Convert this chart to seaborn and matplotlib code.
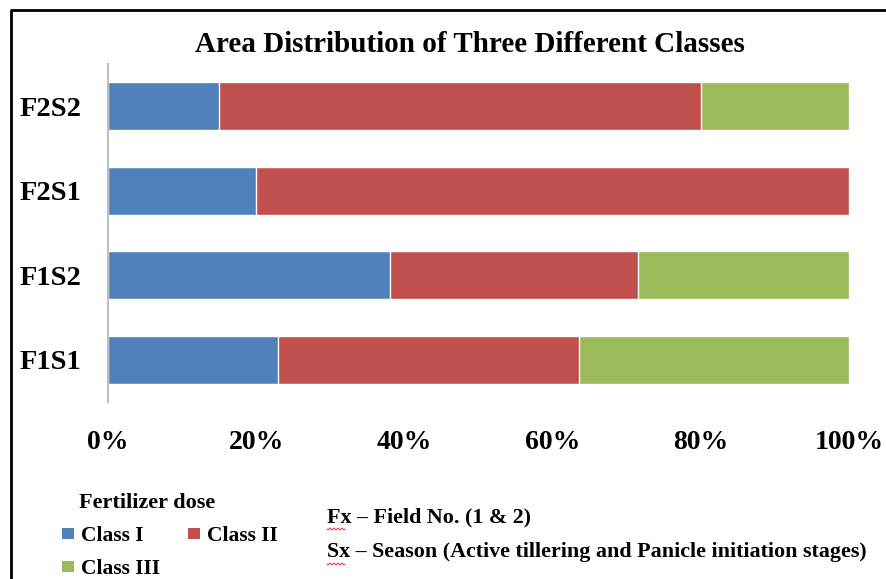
import matplotlib
matplotlib.use("Agg")
import matplotlib.pyplot as plt
from matplotlib.lines import Line2D
from matplotlib.patches import Patch
import seaborn as sns
import pandas as pd
import numpy as np

# Share of area (%) in each class, per field/season combination
groups = ["F2S2", "F2S1", "F1S2", "F1S1"]
class_1 = [15.0, 20.0, 38.0, 23.0]
class_2 = [65.0, 80.0, 33.5, 40.5]
class_3 = [20.0, 0.0, 28.5, 36.5]
class_names = ["Class I", "Class II", "Class III"]
class_colors = ["#4F81BD", "#C0504D", "#9BBB59"]
x_ticks = [0, 20, 40, 60, 80, 100]
x_tick_labels = ["0%", "20%", "40%", "60%", "80%", "100%"]

sns.set_theme(style="white")
plt.rcParams["font.family"] = ["Liberation Serif", "DejaVu Serif"]
plt.rcParams["font.weight"] = "bold"
plt.rcParams["text.color"] = "black"
plt.rcParams["xtick.color"] = "black"
plt.rcParams["ytick.color"] = "black"

df = pd.DataFrame({"group": groups, "c1": class_1, "c2": class_2, "c3": class_3})
df["cum1"] = df["c1"]
df["cum2"] = df["c1"] + df["c2"]
df["cum3"] = df["c1"] + df["c2"] + df["c3"]

fig = plt.figure(figsize=(8.86, 5.79), dpi=100)
ax = fig.add_axes([108 / 886, 1 - 402 / 579, (849 - 108) / 886, (402 - 64) / 579])

# Stacked bars: draw cumulative totals back to front
for col, color in zip(["cum3", "cum2", "cum1"], class_colors[::-1]):
    sns.barplot(data=df, x=col, y="group", order=groups, color=color,
                orient="h", width=0.57, saturation=1, ax=ax)

ax.set_xlim(0, 100)
ax.set_xticks(x_ticks)
ax.set_xticklabels(x_tick_labels, fontsize=20, fontweight="bold", color="black")
ax.set_yticklabels(groups, fontsize=20.5, fontweight="bold", color="black")
ax.set_xlabel("")
ax.set_ylabel("")
ax.tick_params(axis="x", length=0, pad=20)
ax.tick_params(axis="y", length=0, pad=19)
for side in ["top", "right", "bottom"]:
    ax.spines[side].set_visible(False)
ax.spines["left"].set_color("#BFBFBF")
ax.spines["left"].set_linewidth(1.5)

fig.text(470 / 886, 1 - 45 / 579, "Area Distribution of Three Different Classes",
         ha="center", va="center", fontsize=21, fontweight="bold", color="black")

# Legend
handles = [Patch(facecolor=c, edgecolor="none") for c in class_colors]
leg = fig.legend([handles[0], handles[2], handles[1]],
                 [class_names[0], class_names[2], class_names[1]],
                 ncol=2, frameon=False, loc="upper left",
                 bbox_to_anchor=(62 / 886, 1 - 526 / 579),
                 prop={"size": 15.5, "weight": "bold"},
                 handlelength=0.55, handleheight=0.45, handletextpad=0.33,
                 columnspacing=1.3, labelspacing=0.62, borderpad=0,
                 borderaxespad=0)
for t in leg.get_texts():
    t.set_color("black")
fig.text(79 / 886, 1 - 503 / 579, "Fertilizer dose", ha="left", va="center",
         fontsize=16, fontweight="bold", color="black")

# Key to the group codes
fig.text(327 / 886, 1 - 517 / 579, "Fx \u2013 Field No. (1 & 2)", ha="left",
         va="center", fontsize=15.8, fontweight="bold", color="black")
fig.text(327 / 886, 1 - 552 / 579,
         "Sx \u2013 Season (Active tillering and Panicle initiation stages)",
         ha="left", va="center", fontsize=15.8, fontweight="bold", color="black")
for yy in [529, 564]:
    xs = np.linspace(327, 345, 19)
    ys = yy + 1.0 * np.sin(np.arange(19) * np.pi / 2)
    fig.add_artist(Line2D(xs / 886, 1 - ys / 579, color="#E03030", lw=0.7))

# Outer frame
fig.add_artist(Line2D([11 / 886, 11 / 886, 1.0], [0.0, 1 - 10 / 579, 1 - 10 / 579],
                      color="black", lw=2.0))

fig.savefig("out.png", dpi=100)
